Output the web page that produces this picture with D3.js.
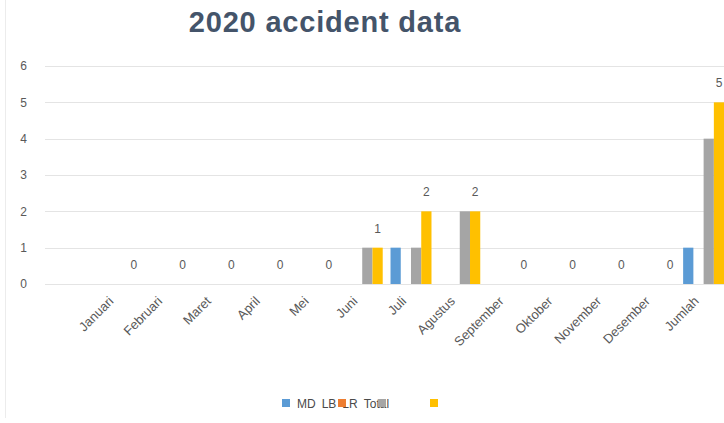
<!DOCTYPE html>
<html>
<head>
<meta charset="utf-8">
<script src="https://cdn.jsdelivr.net/npm/d3@7"></script>
<style>
  body { margin: 0; background: #fff; }
  text { font-family: "Liberation Sans", Arial, sans-serif; }
</style>
</head>
<body>
<div id="chart"></div>
<script>
var months = ["Januari", "Februari", "Maret", "April", "Mei", "Juni", "Juli",
  "Agustus", "September", "Oktober", "November", "Desember", "Jumlah"];
var seriesNames = ["MD", "LB", "LR", "Total"];
var seriesColors = ["#5b9bd5", "#ed7d31", "#a5a5a5", "#ffc000"];
var mdValues = [0, 0, 0, 0, 0, 0, 1, 0, 0, 0, 0, 0, 1];
var lbValues = [0, 0, 0, 0, 0, 0, 0, 0, 0, 0, 0, 0, 0];
var lrValues = [0, 0, 0, 0, 0, 1, 1, 2, 0, 0, 0, 0, 4];
var totalValues = [0, 0, 0, 0, 0, 1, 2, 2, 0, 0, 0, 0, 5];
var yTicks = [0, 1, 2, 3, 4, 5, 6];

(function () {
  var width = 724;
  var height = 423;

  var svg = d3.select("#chart")
    .append("svg")
    .attr("width", width)
    .attr("height", height);

  // faint border of the chart area on the left
  svg.append("line")
    .attr("x1", 5.5).attr("x2", 5.5)
    .attr("y1", 0).attr("y2", 418)
    .attr("stroke", "#ececec");

  var allValues = [mdValues, lbValues, lrValues, totalValues];
  var rows = months.map(function (m, i) {
    return { month: m, values: allValues.map(function (s) { return s[i]; }) };
  });

  var y = d3.scaleLinear().domain([0, 6]).range([284, 66]);
  var x = d3.scaleBand().domain(months).range([94, 728])
    .paddingInner(0.16).paddingOuter(0.08);
  var xs = d3.scaleBand().domain(d3.range(4)).range([0, x.bandwidth()]);

  // gridlines
  svg.append("g").selectAll("line")
    .data(yTicks)
    .enter().append("line")
    .attr("x1", 45).attr("x2", width)
    .attr("y1", function (d) { return Math.round(y(d)) + 0.5; })
    .attr("y2", function (d) { return Math.round(y(d)) + 0.5; })
    .attr("stroke", "#e4e4e4");

  // y axis labels
  var yAxis = svg.append("g")
    .attr("transform", "translate(27,0)")
    .call(d3.axisLeft(y).tickValues(yTicks).tickFormat(d3.format("d"))
      .tickSize(0).tickPadding(0));
  yAxis.select(".domain").remove();
  yAxis.selectAll("text")
    .attr("fill", "#595959")
    .style("font-size", "12px")
    .style("font-family", "Liberation Sans, Arial, sans-serif");

  // bars
  var groups = svg.append("g").selectAll(".group")
    .data(rows)
    .enter().append("g")
    .attr("class", "group")
    .attr("transform", function (d) { return "translate(" + x(d.month) + ",0)"; });

  groups.selectAll("rect")
    .data(function (d) { return d.values; })
    .enter().append("rect")
    .attr("x", function (d, i) { return xs(i); })
    .attr("width", xs.bandwidth())
    .attr("y", function (d) { return y(d); })
    .attr("height", function (d) { return y(0) - y(d); })
    .attr("fill", function (d, i) { return seriesColors[i]; });

  // data labels for Total
  groups.append("text")
    .attr("x", xs(3) + xs.bandwidth() / 2)
    .attr("y", function (d) { return y(d.values[3]) - 15; })
    .attr("text-anchor", "middle")
    .attr("fill", "#595959")
    .style("font-size", "12px")
    .text(function (d) { return d.values[3]; });

  // x axis labels, rotated
  svg.append("g").selectAll("text")
    .data(months)
    .enter().append("text")
    .attr("transform", function (d) {
      return "translate(" + (x(d) + x.bandwidth() / 2 - 4) + ",302) rotate(-45)";
    })
    .attr("text-anchor", "end")
    .attr("fill", "#595959")
    .style("font-size", "13px")
    .text(function (d) { return d; });

  // title
  svg.append("text")
    .attr("x", 325)
    .attr("y", 32)
    .attr("text-anchor", "middle")
    .attr("fill", "#44546a")
    .style("font-size", "29px")
    .style("font-weight", "bold")
    .style("letter-spacing", "0.8px")
    .text("2020 accident data");

  // legend (entries crowd each other like in the original)
  var legend = svg.append("g");
  var tx = 297;
  seriesNames.forEach(function (name, i) {
    var t = legend.append("text")
      .attr("x", tx)
      .attr("y", 408)
      .attr("fill", "#4a4a4a")
      .style("font-size", "12px")
      .text(name);
    tx += t.node().getComputedTextLength() + 6;
  });
  legend.selectAll("rect")
    .data(seriesColors)
    .enter().append("rect")
    .attr("x", function (d, i) { return [282, 338, 378, 430][i]; })
    .attr("y", 399)
    .attr("width", 8)
    .attr("height", 8)
    .attr("fill", function (d) { return d; });
})();
</script>
</body>
</html>
